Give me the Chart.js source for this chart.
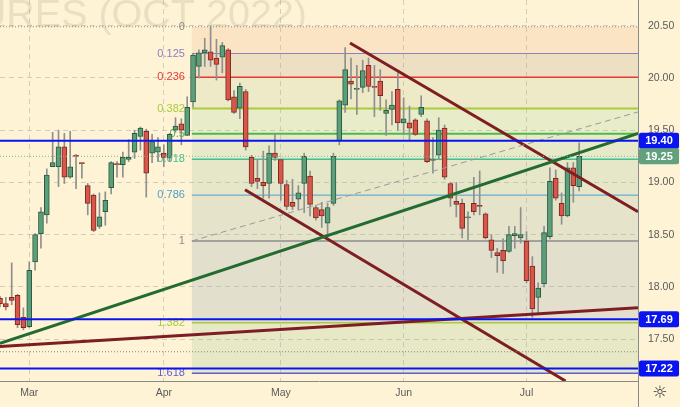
<!DOCTYPE html>
<html>
<head>
<meta charset="utf-8">
<script src="https://cdn.jsdelivr.net/npm/chart.js@4.4.0/dist/chart.umd.min.js"></script>
<style>
  html, body { margin: 0; padding: 0; background: #fef3d4; }
  canvas { display: block; }
</style>
</head>
<body>
<canvas id="chart" width="680" height="407"></canvas>
<script>
// daily candles, bar 1 = end of Feb, bar 100 = mid Jul
const opens = [17.89,17.84,17.90,17.92,17.71,17.62,18.24,18.51,18.69,19.15,
  19.15,19.34,19.05,19.26,19.19,18.97,18.88,18.58,18.72,18.95,
  19.18,19.17,19.22,19.29,19.44,19.49,19.28,19.29,19.28,19.24,
  19.50,19.56,19.45,19.77,20.11,20.24,20.25,20.19,20.20,20.27,
  19.82,19.71,19.87,19.24,19.04,19.00,18.99,19.28,19.22,18.98,
  18.81,18.84,18.99,19.06,18.76,18.74,18.61,18.80,19.40,19.74,
  19.97,19.89,19.91,20.12,19.92,19.97,19.66,19.70,19.89,19.57,
  19.57,19.60,19.65,19.59,19.21,19.26,19.52,18.99,18.82,18.80,
  18.66,18.80,18.78,18.70,18.45,18.33,18.35,18.34,18.49,18.47,
  18.44,18.20,17.90,18.03,18.48,19.04,18.80,18.68,19.14,18.96];
const highs = [17.91,17.90,18.23,17.93,17.80,18.24,18.51,18.76,19.13,19.48,
  19.50,19.47,19.49,19.27,19.19,18.99,18.89,18.90,18.91,19.20,
  19.20,19.29,19.41,19.50,19.53,19.51,19.46,19.43,19.36,19.47,
  19.62,19.61,19.82,20.23,20.27,20.38,20.49,20.37,20.34,20.28,
  19.88,19.95,19.89,19.26,19.22,19.30,19.35,19.47,19.22,19.02,
  19.03,18.97,19.28,19.11,18.78,18.81,18.80,19.28,19.79,20.29,
  20.19,20.12,20.17,20.19,20.12,20.08,19.79,19.87,20.05,19.81,
  19.73,19.61,19.83,19.61,19.43,19.62,19.55,19.00,19.00,18.84,
  18.72,19.05,19.11,18.71,18.50,18.37,18.46,18.58,18.58,18.76,
  18.53,18.29,18.04,18.58,19.14,19.12,18.90,19.19,19.19,19.38];
const lows = [17.81,17.78,17.83,17.61,17.59,17.61,18.16,18.37,18.61,19.15,
  18.96,18.99,19.04,18.94,19.04,18.69,18.53,18.56,18.59,18.89,
  19.05,19.05,19.20,19.23,19.31,18.86,19.19,19.20,19.15,19.20,
  19.48,19.36,19.45,19.72,20.00,20.11,20.11,19.98,20.05,19.78,
  19.66,19.61,19.31,18.96,18.94,18.85,18.85,19.21,18.83,18.74,
  18.74,18.74,18.71,18.68,18.64,18.57,18.48,18.78,19.36,19.67,
  19.80,19.65,19.86,19.87,19.63,19.69,19.45,19.55,19.50,19.46,
  19.41,19.45,19.63,19.19,19.09,19.22,19.03,18.77,18.67,18.47,
  18.45,18.69,18.69,18.46,18.28,18.14,18.13,18.33,18.37,18.42,
  18.04,17.71,17.75,18.00,18.46,18.83,18.60,18.67,18.81,18.92];
const closes = [17.84,17.81,17.87,17.64,17.61,18.16,18.50,18.72,19.07,19.19,
  19.34,19.05,19.15,19.25,19.18,18.80,18.54,18.67,18.83,19.19,
  19.17,19.24,19.24,19.47,19.52,19.09,19.39,19.34,19.24,19.46,
  19.54,19.50,19.72,20.22,20.24,20.27,20.17,20.13,20.31,19.79,
  19.67,19.92,19.34,18.99,19.01,18.97,19.28,19.24,18.99,18.77,
  18.77,18.90,19.25,18.79,18.66,18.68,18.76,19.25,19.78,20.08,
  19.94,19.90,20.07,19.92,19.91,19.83,19.69,19.74,19.57,19.61,
  19.52,19.46,19.72,19.20,19.22,19.50,19.05,18.85,18.79,18.56,
  18.67,18.72,18.77,18.47,18.35,18.30,18.25,18.50,18.51,18.50,
  18.06,17.79,17.99,18.52,19.01,18.85,18.68,19.14,18.97,19.25];
const bars = opens.map((_, i) => i + 1);

const months = ['Mar', 'Apr', 'May', 'Jun', 'Jul'];
const monthStart = [6, 29, 49, 70, 91];
const priceTicks = [17.5, 18.0, 18.5, 19.0, 19.5, 20.0, 20.5];

// fibonacci retracement drawn from the April high to the May low
const fibStart = 33.8;
const fibHigh = 20.49;
const fibLow = 18.44;
const fibRatios = [0, 0.125, 0.236, 0.382, 0.5, 0.618, 0.786, 1, 1.382, 1.618];

// horizontal levels
const blueLevels = [19.40, 17.69, 17.22];
const lastPrice = 19.25;
const dottedLevels = [20.49, 17.38];

// trend lines as [bar, price] pairs
const greenTrend = [[1, 17.46], [110.06, 19.47]];
const grayTrend = [[33.8, 18.44], [110.06, 19.675]];
const redTrends = [
  [[1, 17.43], [110.06, 17.80]],
  [[60.83, 20.335], [110.06, 18.72]],
  [[42.88, 18.93], [97.67, 17.10]]
];

const xMin = 1, xMax = 110.06;
const yMin = 17.10, yMax = 20.746;

const fibColors = ['#8c8c8c', '#8e7cc3', '#e53935', '#a8cc3c', '#4cbb47', '#3fbf94', '#4a9fd0', '#8c8c8c', '#a8cc3c', '#5e5ed8'];
const fibWidths = [1, 1, 1.5, 2, 2, 1.5, 1, 1.5, 1.5, 1.5];
const fibFills = ['#fbe4c4', '#ede0c2', '#eeeac8', '#e9ecc8', '#e7eac8', '#e6e7c9', '#e5e4cb', '#e3dfcd', '#e7e9c6'];
const font = "'Liberation Sans', Arial, sans-serif";

function fibPrice(r) {
  return fibHigh - r * (fibHigh - fibLow);
}

function segment(pts, color, width, dash) {
  return {
    type: 'line',
    data: pts.map(p => ({ x: p[0], y: p[1] })),
    borderColor: color,
    borderWidth: width,
    borderDash: dash || [],
    pointRadius: 0,
    fill: false,
    order: 1
  };
}

const upColor = '#5c9e7a', upLine = '#2a5a40';
const downColor = '#d8564a', downLine = '#7a2a20';
const isUp = bars.map((_, i) => closes[i] >= opens[i]);

const datasets = [];
dottedLevels.forEach(v => datasets.push(segment([[xMin, v], [xMax, v]], '#8a8a80', 1, [1, 2])));
datasets.push(segment([[xMin, lastPrice], [xMax, lastPrice]], '#86b495', 1, [1, 2]));
blueLevels.forEach(v => datasets.push(segment([[xMin, v], [xMax, v]], '#0a14f0', 2)));
datasets.push(segment(grayTrend, '#9a9a9a', 1, [6, 4]));
datasets.push(segment(greenTrend, '#236b30', 3));
redTrends.forEach(t => datasets.push(segment(t, '#7e1e22', 3)));

datasets.push({
  type: 'bar',
  data: bars.map((b, i) => ({ x: b, y: [opens[i], closes[i]] })),
  backgroundColor: isUp.map(u => u ? upColor : downColor),
  borderColor: isUp.map(u => u ? upLine : downLine),
  borderWidth: 1,
  borderSkipped: false,
  barThickness: 5,
  grouped: false,
  order: 10
});
datasets.push({
  type: 'bar',
  data: bars.map((b, i) => ({ x: b, y: [lows[i], highs[i]] })),
  backgroundColor: '#8f8f8f',
  barThickness: 1,
  grouped: false,
  order: 11
});

const decor = {
  id: 'decor',
  beforeDraw(chart) {
    const { ctx, chartArea: a, scales: { x, y } } = chart;
    ctx.save();
    ctx.fillStyle = '#fef3d4';
    ctx.fillRect(0, 0, chart.width, chart.height);

    ctx.font = '39.5px ' + font;
    ctx.fillStyle = 'rgba(110, 95, 70, 0.13)';
    ctx.textAlign = 'right';
    ctx.textBaseline = 'alphabetic';
    ctx.fillText('FUTURES (OCT 2022)', 307, 27);

    const x0 = x.getPixelForValue(fibStart);
    for (let i = 0; i < fibRatios.length - 1; i++) {
      const y1 = y.getPixelForValue(fibPrice(fibRatios[i]));
      const y2 = y.getPixelForValue(fibPrice(fibRatios[i + 1]));
      ctx.fillStyle = fibFills[i];
      ctx.fillRect(x0, y1, a.right - x0, Math.min(y2, a.bottom) - y1);
    }
    ctx.restore();
  },
  beforeDatasetsDraw(chart) {
    const { ctx, chartArea: a, scales: { x, y } } = chart;
    const x0 = x.getPixelForValue(fibStart);
    ctx.save();
    ctx.font = '11px ' + font;
    ctx.textAlign = 'right';
    ctx.textBaseline = 'middle';
    fibRatios.forEach((r, i) => {
      const py = y.getPixelForValue(fibPrice(r));
      if (r !== 0) {
        ctx.strokeStyle = fibColors[i];
        ctx.lineWidth = fibWidths[i];
        ctx.beginPath();
        ctx.moveTo(x0, py);
        ctx.lineTo(a.right, py);
        ctx.stroke();
      }
      ctx.fillStyle = fibColors[i];
      ctx.fillText(String(r), x0 - 7, py);
    });
    ctx.restore();
  },
  afterDraw(chart) {
    const { ctx, chartArea: a, scales: { y } } = chart;
    ctx.save();
    ctx.strokeStyle = '#8a8a8a';
    ctx.lineWidth = 1;
    ctx.beginPath();
    ctx.moveTo(a.right + 0.5, 0);
    ctx.lineTo(a.right + 0.5, chart.height);
    ctx.stroke();

    const tags = blueLevels.map(v => [v, '#0a14f0']).concat([[lastPrice, '#62a07e']]);
    ctx.font = 'bold 11px ' + font;
    ctx.textAlign = 'center';
    ctx.textBaseline = 'middle';
    tags.forEach(([v, c]) => {
      const py = y.getPixelForValue(v);
      ctx.fillStyle = c;
      ctx.beginPath();
      ctx.roundRect(a.right + 1, py - 8, 40, 16, 2);
      ctx.fill();
      ctx.fillStyle = '#ffffff';
      ctx.fillText(v.toFixed(2), a.right + 21, py + 0.5);
    });

    ctx.fillStyle = '#333';
    ctx.font = "17px 'DejaVu Sans'";
    ctx.fillText('\u263C', a.right + 22, a.bottom + 13);
    ctx.restore();
  }
};

new Chart(document.getElementById('chart'), {
  type: 'bar',
  data: { datasets: datasets },
  plugins: [decor],
  options: {
    responsive: false,
    animation: false,
    devicePixelRatio: 1,
    layout: { padding: 0 },
    plugins: { legend: { display: false }, tooltip: { enabled: false } },
    scales: {
      x: {
        type: 'linear',
        min: xMin,
        max: xMax,
        offset: false,
        grid: { offset: false, color: 'rgba(160,160,160,0.45)', drawTicks: false },
        border: { display: true, color: '#8a8a8a', dash: [5, 4] },
        ticks: {
          autoSkip: false,
          maxRotation: 0,
          padding: 6,
          color: '#5a5a5a',
          font: { family: font, size: 10.5 },
          callback: (v, i) => months[i]
        },
        afterBuildTicks: axis => { axis.ticks = monthStart.map(v => ({ value: v })); },
        afterFit: axis => { axis.height = 26; axis.paddingLeft = 0; axis.paddingRight = 0; }
      },
      y: {
        type: 'linear',
        position: 'right',
        min: yMin,
        max: yMax,
        grid: { color: 'rgba(160,160,160,0.45)', drawTicks: false },
        border: { display: true, color: '#8a8a8a', dash: [5, 4] },
        ticks: {
          crossAlign: 'near',
          padding: 10,
          color: '#5a5a5a',
          font: { family: font, size: 10.5 },
          callback: v => Number(v).toFixed(2)
        },
        afterBuildTicks: axis => { axis.ticks = priceTicks.map(v => ({ value: v })); },
        afterFit: axis => { axis.width = 42; axis.paddingTop = 0; axis.paddingBottom = 0; }
      }
    }
  }
});
</script>
</body>
</html>
